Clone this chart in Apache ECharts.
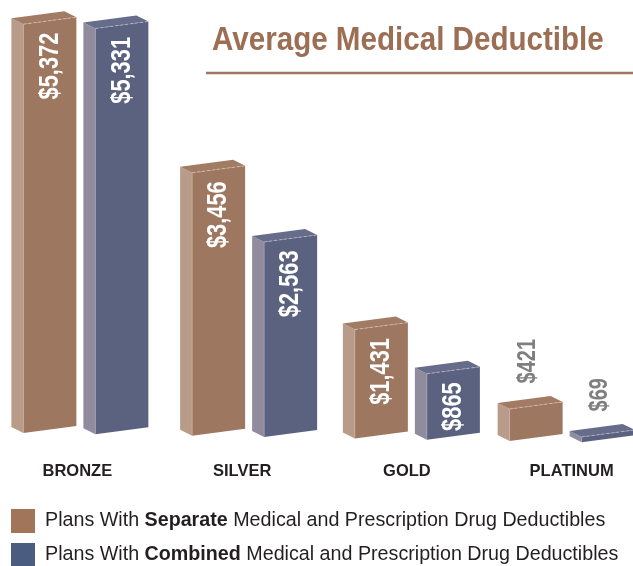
<!DOCTYPE html>
<html>
<head>
<meta charset="utf-8">
<script src="https://cdn.jsdelivr.net/npm/echarts@6/dist/echarts.min.js"></script>
<style>
html,body{margin:0;padding:0;background:#fff;}
#chart{width:633px;height:566px;}
</style>
</head>
<body>
<div id="chart"></div>
<script>
// ---- Data ----
var categories = ['BRONZE', 'SILVER', 'GOLD', 'PLATINUM'];
var separateValues = [5372, 3456, 1431, 421];
var combinedValues = [5331, 2563, 865, 69];
var seriesNames = ['Separate', 'Combined'];
var titleText = 'Average Medical Deductible';

var FONT = '"Liberation Sans", Arial, sans-serif';

var styles = {
  Separate: { front: '#9E7760', side: '#B99B89', top: '#A27B64', edge: '#D9C2B3', legend: '#A0755A', offset: -54 },
  Combined: { front: '#5B6280', side: '#918B9E', top: '#676C8A', edge: '#B9BBD0', legend: '#4A5C80', offset: 18 }
};

// drawing layout (perspective look)
var W = 53, S = 0.132, DX = -12, DY = -6, PERSP = 0.0165;
var groupNudge = [0, 4, 2, -8];

function makeRender(name) {
  var st = styles[name];
  return function (params, api) {
    var cat = api.value(0), val = api.value(1);
    var base = api.coord([cat, 0]);
    var top = api.coord([cat, val]);
    var h = base[1] - top[1];
    var cs = params.coordSys;
    var xl = base[0] + st.offset + (groupNudge[params.dataIndex] || 0), xr = xl + W;
    var yb = base[1] + PERSP * (xl - cs.x);
    var ybr = yb - S * W;
    var front = [[xl, yb], [xr, ybr], [xr, ybr - h], [xl, yb - h]];
    var side = [[xl, yb], [xl, yb - h], [xl + DX, yb - h + DY], [xl + DX, yb + DY]];
    var topF = [[xl, yb - h], [xr, ybr - h], [xr + DX, ybr - h + DY], [xl + DX, yb - h + DY]];
    var children = [
      { type: 'polygon', shape: { points: side }, style: { fill: st.side } },
      { type: 'polygon', shape: { points: topF }, style: { fill: st.top } },
      { type: 'polygon', shape: { points: front }, style: { fill: st.front } },
      { type: 'line', shape: { x1: xl, y1: yb - h, x2: xr, y2: ybr - h }, style: { stroke: st.edge, lineWidth: 0.8, lineDash: [3, 2] } },
      { type: 'line', shape: { x1: xl, y1: yb - h, x2: xl, y2: yb }, style: { stroke: st.edge, lineWidth: 0.6, opacity: 0.7 } }
    ];
    var cx = xl + W / 2;
    var topCenter = yb - h - S * W / 2;
    var label = '$' + val.toLocaleString('en-US');
    if (h > 45) {
      children.push({
        type: 'text', x: cx, y: topCenter + 12, rotation: Math.PI / 2, scaleX: 0.78, scaleY: 1,
        style: { text: label, fill: '#ffffff', font: 'bold 28px ' + FONT, align: 'right', verticalAlign: 'middle' }
      });
    } else {
      children.push({
        type: 'text', x: cx - 8, y: topCenter - 22, rotation: Math.PI / 2, scaleX: 0.8, scaleY: 1,
        style: { text: label, fill: '#7F7F7F', font: 'bold 25px ' + FONT, align: 'left', verticalAlign: 'middle' }
      });
    }
    return { type: 'group', children: children };
  };
}

function toData(vals) {
  return vals.map(function (v, i) { return [i, v]; });
}

var chart = echarts.init(document.getElementById('chart'), null, { renderer: 'canvas' });
chart.setOption({
  backgroundColor: '#ffffff',
  animation: false,
  graphic: [
    {
      type: 'text', x: 212, y: 40.5, scaleX: 0.87, scaleY: 1,
      style: { text: titleText, fill: '#9C6F55', font: 'bold 34px ' + FONT, align: 'left', verticalAlign: 'middle' }
    },
    {
      type: 'line', shape: { x1: 206, y1: 73, x2: 633, y2: 73 },
      style: { stroke: '#A07761', lineWidth: 2.5 }
    }
  ],
  grid: { left: -5, width: 659, top: 52, bottom: 133.5, outerBoundsMode: 'none', containLabel: false },
  xAxis: {
    type: 'category', data: categories,
    axisLine: { show: false }, axisTick: { show: false }, splitLine: { show: false },
    axisLabel: { margin: 30, color: '#231F20', fontSize: 16.5, fontWeight: 'bold', fontFamily: FONT }
  },
  yAxis: { type: 'value', min: 0, max: 5000, show: false },
  legend: {
    orient: 'vertical', left: 11, top: 509, height: 90, padding: 0,
    itemWidth: 24, itemHeight: 24, itemGap: 10,
    icon: 'rect', selectedMode: false,
    data: seriesNames.map(function (n) { return { name: n, itemStyle: { color: styles[n].legend } }; }),
    formatter: function (n) {
      return 'Plans With {b|' + n + '} Medical and Prescription Drug Deductibles';
    },
    textStyle: {
      color: '#231F20', fontSize: 19.7, fontFamily: FONT, padding: [0, 0, 0, 5],
      rich: { b: { fontWeight: 'bold', fontSize: 19.7, fontFamily: FONT, color: '#231F20' } }
    }
  },
  series: [
    { name: seriesNames[0], type: 'custom', renderItem: makeRender('Separate'), data: toData(separateValues), itemStyle: { color: styles.Separate.legend }, clip: false },
    { name: seriesNames[1], type: 'custom', renderItem: makeRender('Combined'), data: toData(combinedValues), itemStyle: { color: styles.Combined.legend }, clip: false }
  ]
});
</script>
</body>
</html>
